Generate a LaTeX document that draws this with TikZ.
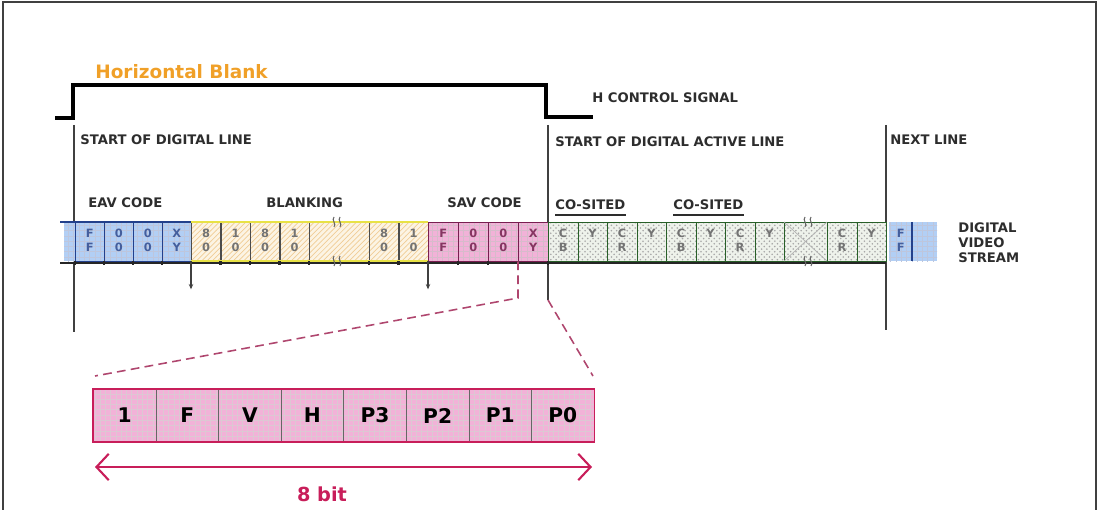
\documentclass[tikz,border=0pt]{standalone}
\usepackage{fontspec}
\setmainfont{DejaVu Sans}
\usepackage{tikz}
\usetikzlibrary{patterns}
\usetikzlibrary{arrows.meta}

\definecolor{hblank}{RGB}{240,160,40}
\definecolor{labeltext}{RGB}{45,45,45}
\definecolor{eavfill}{RGB}{178,207,245}
\definecolor{eavline}{RGB}{35,65,140}
\definecolor{blkfill}{RGB}{252,244,228}
\definecolor{blkhatch}{RGB}{240,205,150}
\definecolor{blkline}{RGB}{232,226,70}
\definecolor{savfill}{RGB}{242,178,216}
\definecolor{savline}{RGB}{120,30,80}
\definecolor{actfill}{RGB}{238,242,235}
\definecolor{actline}{RGB}{40,95,40}
\definecolor{bitline}{RGB}{200,30,90}
\definecolor{zoomcol}{RGB}{175,70,110}

\tikzset{
    lbl/.style={font=\fontsize{7.5}{9}\selectfont\bfseries, text=labeltext, inner sep=0pt, anchor=west},
    cell/.style={draw, minimum width=0.59cm, minimum height=0.78cm, inner sep=0pt, anchor=west,
        align=center, font=\fontsize{6.5}{8.5}\selectfont\bfseries},
    eavcell/.style={cell, draw=eavline, text=eavline!85, minimum width=0.58cm},
    blkcell/.style={cell, draw=black!70, text=black!55},
    savcell/.style={cell, draw=savline, text=savline!90, minimum width=0.6cm},
    actcell/.style={cell, draw=actline, text=black!55},
    bitcell/.style={draw=black!60, minimum width=1.252cm, minimum height=1.06cm, inner sep=0pt,
        anchor=west, font=\fontsize{11.5}{13}\selectfont\bfseries},
    markline/.style={black!75, line width=1pt},
    zoomline/.style={zoomcol, dashed, dash pattern=on 5pt off 3pt, line width=0.9pt},
}

\begin{document}
\begin{tikzpicture}[x=0.02cm, y=-0.02cm]
            \useasboundingbox (0,0) rectangle (1099,510);
            % frame
            \draw [black!75, line width=0.9pt] (3,510) -- (3,2) -- (1096,2) -- (1096,510);
            % H control signal
            \draw [line width=2pt] (55,118) -- (73,118) -- (73,85) -- (546,85) -- (546,117) -- (593,117);
            \node [font=\fontsize{10.5}{12}\selectfont\bfseries, text=hblank, inner sep=0pt, anchor=west] (hb) at (95,72) {Horizontal Blank};
            \node [lbl] (hcs) at (592,98) {H CONTROL SIGNAL};
            % line markers
            \coordinate (sl top) at (74,125);
            \coordinate (sl bot) at (74,332);
            \coordinate (al top) at (548,125);
            \coordinate (al bot) at (548,300);
            \coordinate (nl top) at (886,125);
            \coordinate (nl bot) at (886,330);
            \draw [markline] (sl top) -- (sl bot);
            \draw [markline] (al top) -- (al bot);
            \draw [markline] (nl top) -- (nl bot);
            \node [lbl] (sdl) at (80,140) {START OF DIGITAL LINE};
            \node [lbl] (sal) at (555,142) {START OF DIGITAL ACTIVE LINE};
            \node [lbl] (nxl) at (890,140) {NEXT LINE};
            % group labels
            \node [lbl] (eavl) at (88,203) {EAV CODE};
            \node [lbl] (blkl) at (266,203) {BLANKING};
            \node [lbl] (savl) at (447,203) {SAV CODE};
            \node [lbl] (cs1) at (555,205) {CO-SITED};
            \node [lbl] (cs2) at (673,205) {CO-SITED};
            \draw [labeltext, line width=0.9pt] ([yshift=-2.5pt]cs1.south west) -- ([yshift=-2.5pt]cs1.south east);
            \draw [labeltext, line width=0.9pt] ([yshift=-2.5pt]cs2.south west) -- ([yshift=-2.5pt]cs2.south east);
            % backgrounds
            \path [preaction={fill=eavfill}, pattern=grid, pattern color=eavline!30] (64,222) rectangle (191,261);
            \path [preaction={fill=blkfill}, pattern=north east lines, pattern color=blkhatch] (191,222) rectangle (428,261);
            \path [preaction={fill=savfill}, pattern=grid, pattern color=savline!30] (428,222) rectangle (548,261);
            \path [preaction={fill=actfill}, pattern=crosshatch dots, pattern color=black!35] (548,222) rectangle (886,261);
            \path [preaction={fill=eavfill}, pattern=grid, pattern color=eavline!30] (889,222) rectangle (937,261);
            % cells
            \foreach \x/\a/\b [count=\i] in {75/F/F, 104/0/0, 133/0/0, 162/X/Y}
                \node [eavcell] (eav\i) at (\x,241.5) {\strut\a\\\strut\b};
            \foreach \x/\a/\b [count=\i] in {191/8/0, 220.5/1/0, 250/8/0, 279.5/1/0, 369/8/0, 398.5/1/0}
                \node [blkcell] (blk\i) at (\x,241.5) {\strut\a\\\strut\b};
            \foreach \x/\a/\b [count=\i] in {428/F/F, 458/0/0, 488/0/0, 518/X/Y}
                \node [savcell] (sav\i) at (\x,241.5) {\strut\a\\\strut\b};
            \foreach \x/\a/\b [count=\i] in {548/C/B, 577.5/Y/, 607/C/R, 636.5/Y/, 666/C/B, 695.5/Y/, 725/C/R, 754.5/Y/, 827/C/R, 856.5/Y/}
                \node [actcell] (act\i) at (\x,241.5) {\strut\a\\\strut\b};
            \node [cell, draw=none, text=eavline!85, minimum width=0.46cm] (nxt) at (889,241.5) {\strut F\\\strut F};
            \draw [eavline, line width=1pt] (912,222) -- (912,261);
            % gaps
            \draw [actline] (784,222) rectangle (827,261);
            \draw [black!30] (784,222) -- (827,261) (784,261) -- (827,222);
            \draw [blkline, line width=1.6pt] (191,222) -- (428,222) (191,261) -- (428,261);
            \draw [eavline, line width=0.8pt] (60,222) -- (191,222);
            \draw [black!85, line width=0.8pt] (60,263) -- (886,263);
            \foreach \bx in {75,104,133,162,191,220.5,250,279.5,309,369,398.5,428,458,488,518,548}
                \draw [black!85, line width=1.2pt] (\bx,261) -- (\bx,265);
            % breaks
            \foreach \bx in {337,808}
                \foreach \by in {222,261}
                    \foreach \dx in {-3,3}
                        \draw [black!60, line width=0.6pt] (\bx+\dx,\by-5) .. controls (\bx+\dx-3,\by-2) and (\bx+\dx+3,\by+2) .. (\bx+\dx,\by+5);
            \node [lbl, align=left, font=\fontsize{7.5}{8.5}\selectfont\bfseries] (dvs) at (958,243) {DIGITAL\\VIDEO\\STREAM};
            % ticks below
            \draw [markline, -{Stealth[length=3pt,width=2.5pt]}] (blk1.south west) -- ++(0,28);
            \draw [markline, -{Stealth[length=3pt,width=2.5pt]}] (sav1.south west) -- ++(0,28);
            % 8 bit word
            \foreach \t [count=\i] in {1,F,V,H,P3,P2,P1,P0}
                \node [bitcell, preaction={fill=savfill}, pattern=grid, pattern color=savline!25] (bit\i) at ({93+62.6*(\i-1)},415.5) {\t};
            \draw [bitline, line width=1pt] (bit1.north west) rectangle (bit8.south east);
            \coordinate (zc) at (518,298);
            \coordinate (zl) at (95,376);
            \coordinate (zr) at (593,376);
            \draw [zoomline] (sav4.south west) -- (zc) -- (zl);
            \draw [zoomline] (al bot) -- (zr);
            \coordinate (aw) at (95,467);
            \coordinate (ae) at (592,467);
            \draw [bitline, line width=1.2pt, {Straight Barb[length=7pt,width=15pt]}-{Straight Barb[length=7pt,width=15pt]}] (aw) -- (ae);
            \node [font=\fontsize{11}{13}\selectfont\bfseries, text=bitline, inner sep=0pt] (nb) at (322,494) {8 bit};
        \end{tikzpicture}
\end{document}
